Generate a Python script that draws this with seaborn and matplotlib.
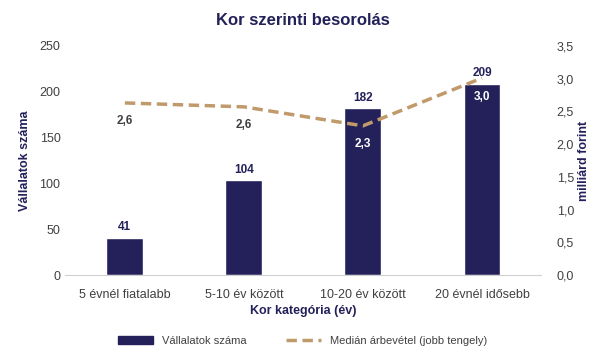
import matplotlib
matplotlib.use("Agg")
import matplotlib.pyplot as plt
import seaborn as sns
import pandas as pd

kategoriak = ["5 évnél fiatalabb", "5-10 év között", "10-20 év között", "20 évnél idősebb"]
vallalatok = [41, 104, 182, 209]
median_arbevetel = [2.63, 2.57, 2.28, 3.01]
median_cimke = ["2,6", "2,6", "2,3", "3,0"]

df = pd.DataFrame({"Kategória": kategoriak, "Vállalatok": vallalatok, "Medián": median_arbevetel})

sns.set_style("white")
plt.rcParams["font.family"] = ["Liberation Sans", "DejaVu Sans"]

navy = "#24215A"
tan = "#C09A6B"
szurke = "#404040"

fig = plt.figure(figsize=(6.05, 3.62), dpi=100)
ax = fig.add_axes([0.108, 0.240, 0.787, 0.633])

sns.barplot(data=df, x="Kategória", y="Vállalatok", color=navy, width=0.31,
            saturation=1, ax=ax)
ax.set_ylim(0, 250)
ax.set_yticks(range(0, 251, 50))
ax.set_xlabel("Kor kategória (év)", fontsize=9, fontweight="bold", color=navy, labelpad=3)
ax.set_ylabel("Vállalatok száma", fontsize=9, fontweight="bold", color=navy, labelpad=6)
ax.tick_params(axis="both", labelsize=9, colors=szurke, length=0)
ax.tick_params(axis="x", pad=10)
for s in ["top", "right", "left"]:
    ax.spines[s].set_visible(False)
ax.spines["bottom"].set_color("#D0D0D0")

for i, v in enumerate(vallalatok):
    ax.annotate(str(v), (i, v), xytext=(0, 3), textcoords="offset points",
                ha="center", va="bottom", fontsize=8.5, fontweight="bold", color=navy)

ax2 = ax.twinx()
sns.lineplot(data=df, x="Kategória", y="Medián", color=tan, linewidth=2.5,
             linestyle=(0, (3, 1.6)), sort=False, ax=ax2)
ax2.set_ylim(0, 3.5)
ax2.set_yticks([0, 0.5, 1, 1.5, 2, 2.5, 3, 3.5])
ax2.set_yticklabels([f"{t:.1f}".replace(".", ",") for t in ax2.get_yticks()])
ax2.set_ylabel("milliárd forint", fontsize=9, fontweight="bold", color=navy,
               rotation=90, labelpad=3)
ax2.tick_params(axis="y", labelsize=9, colors=szurke, length=0, pad=11)
for s in ["top", "right", "left", "bottom"]:
    ax2.spines[s].set_visible(False)
ax.set_xlim(-0.5, 3.5)

for i, (v, c) in enumerate(zip(median_arbevetel, median_cimke)):
    ax2.annotate(c, (i, v), xytext=(0, -9), textcoords="offset points",
                 ha="center", va="top", fontsize=8.5, fontweight="bold",
                 color="white" if i >= 2 else szurke)

fig.suptitle("Kor szerinti besorolás", x=0.5, y=0.965, fontsize=12,
             fontweight="bold", color=navy)

handles = [
    plt.Rectangle((0, 0), 1, 1, color=navy),
    plt.Line2D([0], [0], color=tan, linewidth=2.5, linestyle=(0, (3, 1.6))),
]
fig.legend(handles, ["Vállalatok száma", "Medián árbevétel (jobb tengely)"],
           loc="center", bbox_to_anchor=(0.5, 0.058), ncol=2, frameon=False,
           fontsize=8, labelcolor=szurke, handlelength=3.2, handleheight=0.7,
           columnspacing=3.5)

fig.savefig("out.png", dpi=100)
